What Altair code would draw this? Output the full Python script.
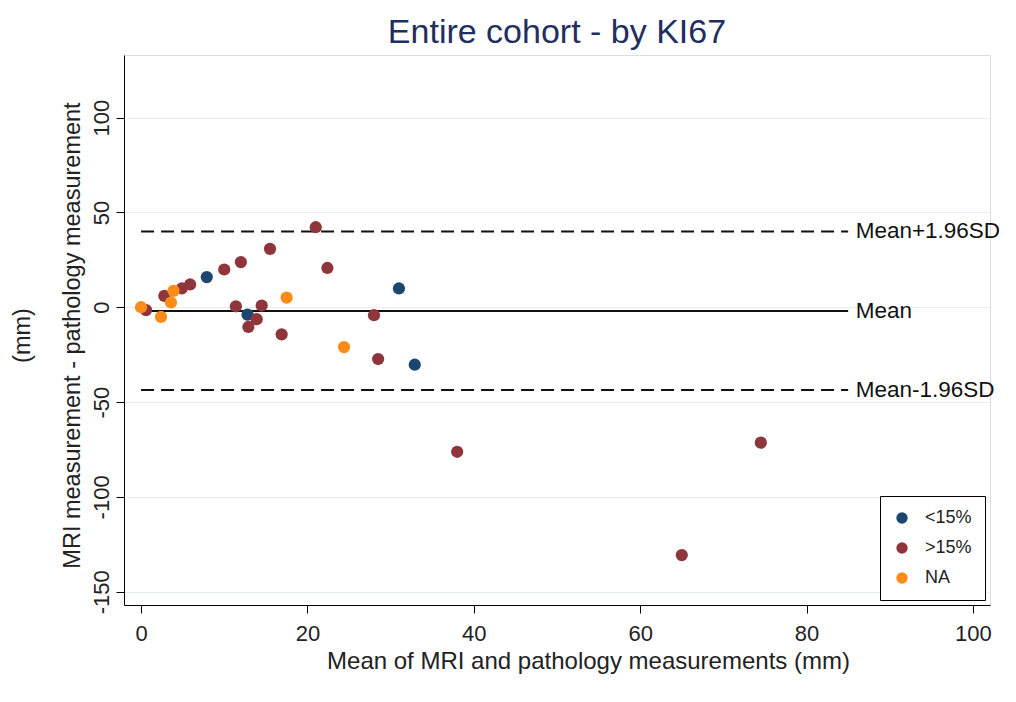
import altair as alt
import pandas as pd

# ---- data ----
group_order = ["<15%", ">15%", "NA"]
group_colors = ["#1b476f", "#8f353c", "#fb8c1a"]

grp_lt15_x = [7.9, 12.8, 31.0, 32.9]
grp_lt15_y = [15.9, -3.9, 9.9, -30.3]

grp_gt15_x = [0.6, 2.8, 4.9, 5.9, 10.0, 12.0, 15.5, 21.0, 22.4, 11.4, 12.9, 13.9,
              14.5, 16.9, 28.0, 28.5, 38.0, 74.5, 65.0]
grp_gt15_y = [-1.5, 6.0, 9.9, 12.0, 19.9, 23.8, 30.8, 42.2, 20.7, 0.5, -10.4, -6.3,
              0.9, -14.3, -4.2, -27.3, -76.2, -71.4, -130.7]

grp_na_x = [0.0, 2.4, 3.9, 3.6, 17.5, 24.4]
grp_na_y = [0.0, -5.1, 8.6, 2.5, 5.1, -21.0]

limit_names = ["Mean+1.96SD", "Mean", "Mean-1.96SD"]
limit_values = [40.0, -2.0, -43.6]
limit_x_start = 0
limit_x_end = 85
label_x = 85.9

x_ticks = [0, 20, 40, 60, 80, 100]
y_ticks = [-150, -100, -50, 0, 50, 100]

# ---- tables ----
rows = []
for g, xs, ys in [("<15%", grp_lt15_x, grp_lt15_y),
                  (">15%", grp_gt15_x, grp_gt15_y),
                  ("NA", grp_na_x, grp_na_y)]:
    for a, b in zip(xs, ys):
        rows.append({"mean": a, "diff": b, "group": g})
pts = pd.DataFrame(rows)

lims = pd.DataFrame({"name": limit_names, "y": limit_values,
                     "x0": [limit_x_start] * 3, "x1": [limit_x_end] * 3,
                     "lx": [label_x] * 3})

FONT = "Liberation Sans"
TXT = "#222222"

xscale = alt.Scale(domain=[-2.05, 102.05], nice=False, zero=False)
yscale = alt.Scale(domain=[-157, 133], nice=False, zero=False)

xaxis = alt.Axis(values=x_ticks, grid=False, title="Mean of MRI and pathology measurements (mm)",
                 domainColor="black", tickColor="black", tickSize=8,
                 labelFontSize=22, labelColor=TXT, labelPadding=10, labelFont=FONT,
                 titleFontSize=24, titleFontWeight="normal", titleFont=FONT, titleColor=TXT,
                 titleX=464, titleY=56, titleBaseline="middle", titleAlign="center")
yaxis = alt.Axis(values=y_ticks, grid=True, gridColor="#e6eef0", gridWidth=1.2,
                 title=["(mm)", "MRI measurement - pathology measurement"],
                 domainColor="black", tickColor="black", tickSize=8,
                 labelFontSize=22, labelColor=TXT, labelPadding=3, labelFont=FONT,
                 labelAngle=270, labelAlign="center", labelBaseline="bottom",
                 labelExpr="replace(datum.label, '\u2212', '-')",
                 titleFontSize=23.5, titleFontWeight="normal", titleFont=FONT, titleColor=TXT,
                 titleAngle=270, titleX=-102, titleY=280, titleBaseline="middle",
                 titleAlign="center", titleLineHeight=50)

points = alt.Chart(pts).mark_circle(size=150, opacity=1).encode(
    x=alt.X("mean:Q", scale=xscale, axis=xaxis),
    y=alt.Y("diff:Q", scale=yscale, axis=yaxis),
    color=alt.Color("group:N", scale=alt.Scale(domain=group_order, range=group_colors),
                    legend=alt.Legend(title=None, orient="none", legendX=756, legendY=441,
                                      strokeColor="black", fillColor="white", padding=13,
                                      symbolType="circle", symbolSize=130, symbolStrokeWidth=0,
                                      symbolOpacity=1, labelFontSize=18, labelFont=FONT,
                                      labelColor=TXT, labelOffset=14, rowPadding=12)),
)

dashed = alt.Chart(lims[lims["name"] != "Mean"]).mark_rule(
    color="#111111", strokeWidth=2, strokeDash=[13, 7]).encode(
    x="x0:Q", x2="x1:Q", y="y:Q")
solid = alt.Chart(lims[lims["name"] == "Mean"]).mark_rule(
    color="#111111", strokeWidth=2).encode(
    x="x0:Q", x2="x1:Q", y="y:Q")
labels = alt.Chart(lims).mark_text(align="left", baseline="middle", fontSize=22.5,
                                   font=FONT, color="#111111").encode(
    x="lx:Q", y="y:Q", text="name:N")

chart = alt.layer(dashed, solid, points, labels).properties(
    width=866, height=550,
    padding={"left": 116, "top": 47, "right": 18, "bottom": 75},
    autosize=alt.AutoSizeParams(type="none"),
    title=alt.TitleParams("Entire cohort - by KI67", fontSize=34, font=FONT,
                          fontWeight="normal", color="#1f2f5e", anchor="middle",
                          frame="group", offset=5),
).configure_view(strokeWidth=0).configure(background="white")

chart.save("out.html", embed_options={"renderer": "svg", "actions": False})
